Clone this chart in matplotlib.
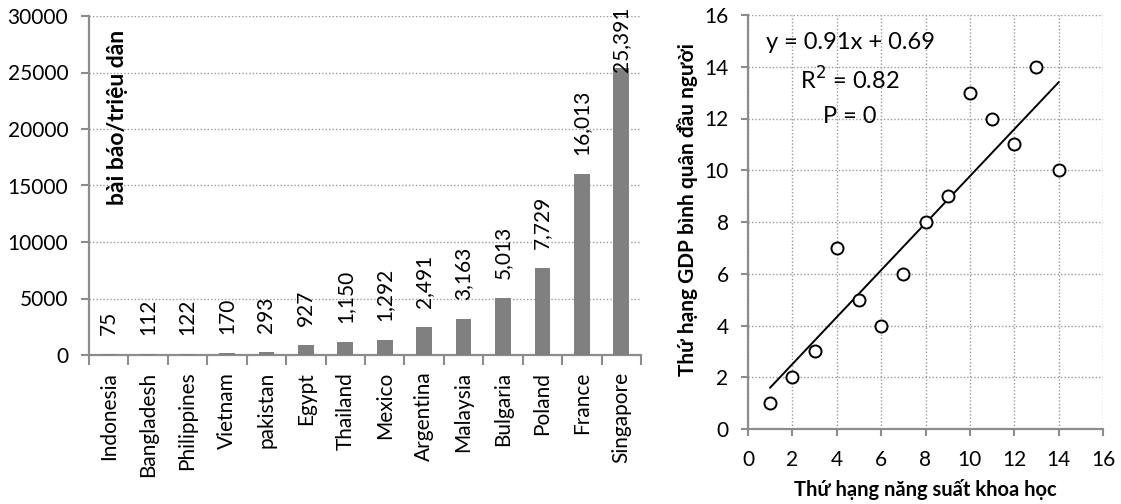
import numpy as np
import matplotlib
matplotlib.use("Agg")
import matplotlib.pyplot as plt

plt.rcParams['font.family'] = ['Lato', 'DejaVu Sans']

# Papers per million inhabitants
countries = ["Indonesia", "Bangladesh", "Philippines", "Vietnam", "pakistan", "Egypt",
             "Thailand", "Mexico", "Argentina", "Malaysia", "Bulgaria", "Poland",
             "France", "Singapore"]
papers = [75, 112, 122, 170, 293, 927, 1150, 1292, 2491, 3163, 5013, 7729, 16013, 25391]

# Rank of scientific productivity vs rank of GDP per capita
rank_science = [1, 2, 3, 4, 5, 6, 7, 8, 9, 10, 11, 12, 13, 14]
rank_gdp = [1, 2, 3, 7, 5, 4, 6, 8, 9, 13, 12, 11, 14, 10]

GRID = "#9a9a9a"
SPINE = "#8c8c8c"
BAR = "#808080"
FS = 15

fig = plt.figure(figsize=(11.21, 5.04), dpi=100)

# ---- left: bar chart ----
ax1 = fig.add_axes([89 / 1121, 1 - 355 / 504, 552 / 1121, 339 / 504])
pos = np.arange(len(countries))
ax1.bar(pos, papers, width=0.4, color=BAR, zorder=3)
ax1.set_xlim(-0.5, len(countries) - 0.5)
ax1.set_ylim(0, 30000)
ax1.set_yticks(np.arange(0, 30001, 5000))
ax1.yaxis.grid(True, linestyle=(0, (1, 1.5)), color=GRID, linewidth=1.0, zorder=0)
ax1.set_axisbelow(True)
for s in ("top", "right"):
    ax1.spines[s].set_visible(False)
for s in ("left", "bottom"):
    ax1.spines[s].set_color(SPINE)
    ax1.spines[s].set_linewidth(1.6)

ax1.set_xticks(pos)
ax1.set_xticklabels(countries, rotation=90, fontsize=FS, va="top", ha="center")
ax1.tick_params(axis="x", length=0, pad=12)
ax1.set_xticks(np.arange(-0.5, len(countries), 1.0), minor=True)
ax1.tick_params(axis="x", which="minor", length=7, width=1.5, color=SPINE, direction="out")
ax1.tick_params(axis="y", length=6, width=1.5, color=SPINE, direction="out", pad=9, labelsize=FS)

# value labels above bars, held inside the top of the plot area
label_cap = 25050
for p, v in zip(pos, papers):
    y = min(v + 1680, label_cap)
    ax1.text(p, y, f"{v:,}", rotation=90, ha="center", va="bottom", fontsize=FS, zorder=4)

ax1.text(0.0525, 0.959, "bài báo/triệu dân", transform=ax1.transAxes, rotation=90,
         ha="center", va="top", fontsize=16.5, fontweight="bold")

# ---- right: scatter with linear fit ----
ax2 = fig.add_axes([748 / 1121, 1 - 429 / 504, 355 / 1121, 414 / 504])
xs = np.array(rank_science, dtype=float)
ys = np.array(rank_gdp, dtype=float)
slope, intercept = np.polyfit(xs, ys, 1)
r2 = np.corrcoef(xs, ys)[0, 1] ** 2
xl = np.array([xs.min(), xs.max()])
ax2.plot(xl, slope * xl + intercept, color="black", linewidth=1.4, zorder=3)
ax2.scatter(xs, ys, s=75, facecolors="white", edgecolors="black", linewidths=1.4, zorder=4)

ax2.set_xlim(0, 16)
ax2.set_ylim(0, 16)
ax2.set_xticks(np.arange(0, 17, 2))
ax2.set_yticks(np.arange(0, 17, 2))
ax2.grid(True, linestyle=(0, (1, 1.5)), color=GRID, linewidth=1.0, zorder=0)
ax2.set_axisbelow(True)
for s in ("top", "right"):
    ax2.spines[s].set_visible(False)
for s in ("left", "bottom"):
    ax2.spines[s].set_color(SPINE)
    ax2.spines[s].set_linewidth(1.6)
ax2.tick_params(axis="both", length=5, width=1.5, color=SPINE, direction="out", labelsize=FS)
ax2.tick_params(axis="y", pad=9)
ax2.tick_params(axis="x", pad=10)

eq_fs = 17
ax2.text(4.6, 14.92, f"y = {slope:.2f}x + {intercept:.2f}", ha="center", va="center", fontsize=eq_fs)
ax2.text(4.6, 13.49, f"R$^2$ = {r2:.2f}", ha="center", va="center", fontsize=eq_fs)
ax2.text(4.6, 12.06, "P = 0", ha="center", va="center", fontsize=eq_fs)

fig.text(925 / 1121, 1 - 490 / 504, "Thứ hạng năng suất khoa học", ha="center", va="center",
         fontsize=14.5, fontweight="bold")
fig.text(688 / 1121, 1 - 210 / 504, "Thứ hạng GDP bình quân đầu người", ha="center", va="center",
         rotation=90, fontsize=FS, fontweight="bold")

fig.savefig("out.png", dpi=100)
